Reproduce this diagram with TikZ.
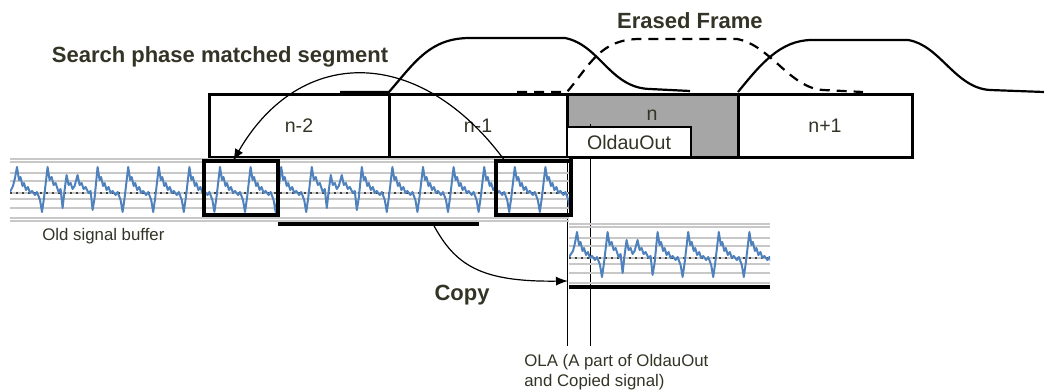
\documentclass[tikz,border=0pt]{standalone}
\usepackage{fontspec}
\setmainfont{Liberation Sans}
\usetikzlibrary{positioning,arrows.meta}

\definecolor{txtdark}{RGB}{51,51,38}
\definecolor{framegray}{RGB}{166,166,166}
\definecolor{sigblue}{RGB}{79,129,189}
\definecolor{gridgray}{RGB}{200,200,200}

% one regular pitch pulse, peak to next peak
\newcommand{\sigpulse}{-- ++(2,13) -- ++(1.5,-3) -- ++(2,9) -- ++(1.5,-3) -- ++(2,7) -- ++(2,-3) -- ++(2,6) -- ++(2,-2) -- ++(3,4) -- ++(2,-3) -- ++(3,8) -- ++(2,12) -- ++(2,-14) -- ++(3.6,-31)}
% pulse with two small peaks
\newcommand{\sigdouble}{-- ++(2,13) -- ++(2,-3) -- ++(2,8) -- ++(2,-2) -- ++(3,9) -- ++(2,-3) -- ++(2,19) -- ++(2,-18) -- ++(2,-15) -- ++(2,10) -- ++(2,-2) -- ++(2,6) -- ++(2,-3) -- ++(3,-11) -- ++(2,10) -- ++(2,-2) -- ++(2,6) -- ++(2,-2) -- ++(3,6) -- ++(2,-2) -- ++(2,19) -- ++(2,-12) -- ++(3,-31)}
% signal strip from x=#1 to x=#2
\newcommand{\sigstrip}[2]{%
  \foreach \gy in {159,162,173,181,199,208,218,221}
    \draw[gridline] (#1,\gy) -- (#2,\gy);
  \draw[gridline] (#1,193) -- (#2,193);
  \draw[markline] (#1,193) -- (#2,193);
  \begin{scope}
    \clip (#1,150) rectangle (#2,226);
    \draw[wave] (#1,192) -- (13,186) -- (15,178) -- (17,167)
      \foreach \c in {1,2,3} {\sigpulse \sigdouble \sigpulse \sigpulse \sigpulse \sigpulse \sigpulse \sigpulse};
  \end{scope}}

\begin{document}
\begin{tikzpicture}[
  x=0.5pt, y=-0.5pt,
  framebox/.style={rectangle, draw, line width=1.5pt, outer sep=0pt, inner sep=0pt,
    minimum height=31.25pt, text=txtdark, font=\fontsize{9.8}{11}\selectfont},
  oldbox/.style={rectangle, draw, fill=white, line width=1.2pt, outer sep=0pt, inner sep=0pt,
    minimum width=62pt, minimum height=15pt, text=txtdark, font=\fontsize{9.8}{11}\selectfont},
  winbox/.style={rectangle, draw, line width=1.75pt, outer sep=0pt, minimum height=27pt},
  titletext/.style={inner sep=0pt, text=txtdark, font=\fontsize{11}{13}\selectfont\bfseries},
  notetext/.style={inner sep=0pt, text=txtdark, font=\fontsize{8.4}{10}\selectfont, align=left},
  winline/.style={line width=1.1pt},
  thickbar/.style={line width=1.8pt},
  gridline/.style={gridgray, line width=0.6pt},
  markline/.style={black!75, line width=0.9pt, dash pattern=on 1pt off 2pt},
  wave/.style={sigblue, line width=1pt, line join=round},
  arr/.style={-{Latex[length=6pt,width=4.5pt]}, line width=0.6pt},
  olaline/.style={line width=0.5pt}
]
\useasboundingbox (0,0) rectangle (1044,391);

% frame windows
\draw[winline] (340,92) -- (389,92) .. controls (415,62) and (430,38) .. (470,38) -- (565,38) .. controls (600,45) and (610,88) .. (650,89) -- (690,91);
\draw[winline, dash pattern=on 5pt off 3.5pt] (517,92) -- (567,92) .. controls (590,65) and (600,39) .. (640,39) -- (737,39) .. controls (770,45) and (790,88) .. (823,90) -- (863,92);
\draw[winline] (738,92) .. controls (760,65) and (780,40) .. (812,40) -- (908,40) .. controls (940,45) and (955,88) .. (990,90) -- (1044,92);

\node[titletext] (erased) at (690,21) {Erased Frame};
\node[titletext] (search) at (220,57) {Search phase matched segment};

% frames
\node[framebox, minimum width=90pt] (fn2) at (299,125.75) {n-2};
\node[framebox, minimum width=89pt, right=0pt of fn2] (fn1) {n-1};
\node[framebox, minimum width=85.5pt, fill=framegray, right=0pt of fn1] (fn) {};
\node[framebox, minimum width=87pt, right=0pt of fn] (fn3) {n+1};
\node[text=txtdark, font=\fontsize{9.8}{11}\selectfont] (nlab) at (652,115) {n};

% OLA marker lines
\coordinate (olaL) at (567,346);
\coordinate (olatop) at (590,124);
\draw[olaline] (fn.south west) -- (olaL);
\draw[olaline] (olatop) -- (olatop |- olaL);
\node[oldbox, anchor=south west] (olda) at (fn.south west) {OldauOut};

% old signal buffer
\sigstrip{10}{569}
\node[winbox, minimum width=37pt] (wmatch) at (241,188) {};
\node[winbox, minimum width=37.5pt] (wtail) at (533.5,188) {};
\coordinate (seg1) at (278,224);
\coordinate (seg2) at (479,224);
\draw[thickbar] (seg1) -- (seg2);
\node[notetext, anchor=west] (oldbuf) at (42,236) {Old signal buffer};

% copied signal
\begin{scope}[shift={(560,65)}]
  \sigstrip{9}{210}
\end{scope}
\coordinate (new1) at (569,287);
\coordinate (new2) at (770,287);
\draw[thickbar] (new1) -- (new2);

% arrows
\coordinate (cpsrc) at (433,224);
\coordinate (cpdst) at (568,281);
\draw[arr] (cpsrc) .. controls (455,265) and (480,282) .. (cpdst);
\node[titletext] (copy) at (462,295) {Copy};
\draw[arr] ([xshift=4.5pt]wtail.north west) .. controls (420,45) and (300,45) .. ([xshift=-4pt]wmatch.north);

\node[notetext, anchor=west] (ola) at (524,372) {OLA (A part of OldauOut\\and Copied signal)};
\end{tikzpicture}
\end{document}
